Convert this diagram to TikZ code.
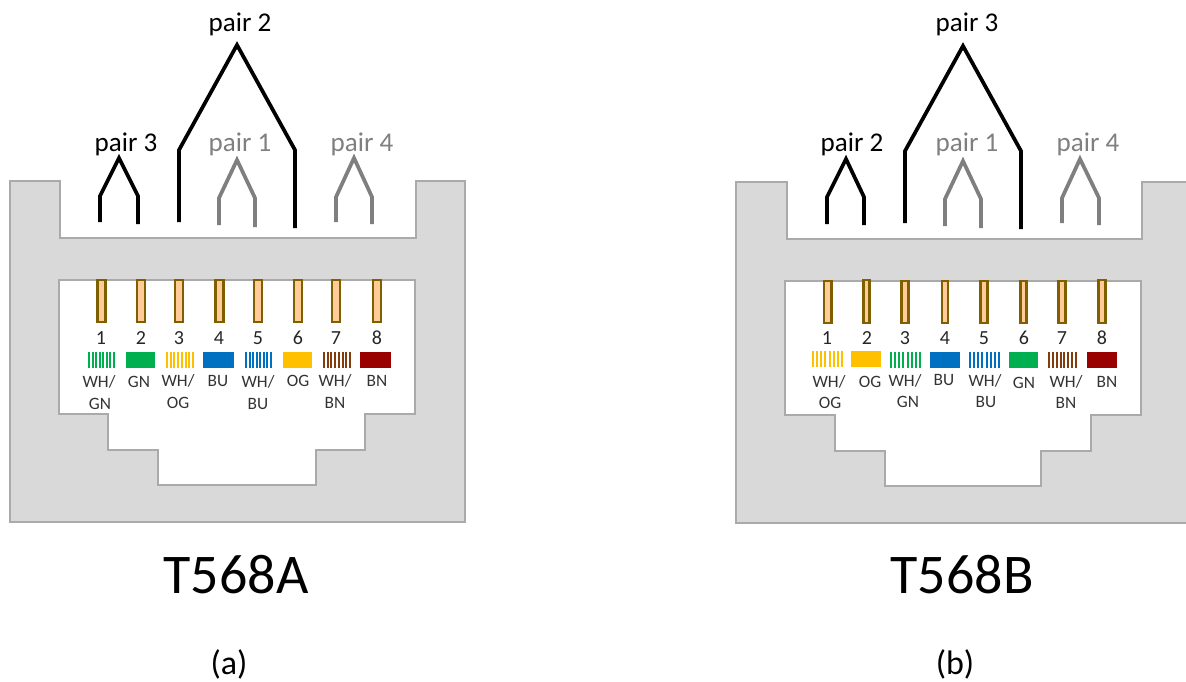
\documentclass[tikz,border=0pt]{standalone}
\usepackage{fontspec}
\setmainfont{Carlito}
\definecolor{shell}{RGB}{217,217,217}
\definecolor{edgeg}{RGB}{170,170,170}
\definecolor{pinfill}{RGB}{255,204,153}
\definecolor{pinedge}{RGB}{127,96,0}
\definecolor{cgreen}{RGB}{0,176,80}
\definecolor{corange}{RGB}{255,192,0}
\definecolor{cblue}{RGB}{0,112,192}
\definecolor{cbrown}{RGB}{132,60,12}
\definecolor{cred}{RGB}{153,0,0}
\definecolor{wireg}{RGB}{127,127,127}
\tikzset{
  x=0.75pt,y=-0.75pt,
  shellbody/.style={draw=edgeg,fill=shell,line width=1.6pt,even odd rule},
  pinbar/.style={draw=pinedge,fill=pinfill,line width=1.6pt},
  wirek/.style={draw=black,line width=2.8pt,line join=miter},
  wireh/.style={draw=wireg,line width=2.8pt,line join=miter},
  numtxt/.style={font=\fontsize{15pt}{16pt}\selectfont,text=black!85,inner sep=0pt,anchor=center},
  lbltxt/.style={font=\fontsize{13pt}{14pt}\selectfont,text=black!80,inner sep=0pt,anchor=center},
  pairk/.style={font=\fontsize{20.3pt}{22pt}\selectfont,text=black,inner sep=0pt,anchor=center},
  pairh/.style={font=\fontsize{20.3pt}{22pt}\selectfont,text=wireg,inner sep=0pt,anchor=center},
  titletxt/.style={font=\fontsize{42pt}{44pt}\selectfont,text=black,inner sep=0pt,anchor=center},
  captxt/.style={font=\fontsize{25.5pt}{27pt}\selectfont,text=black,inner sep=0pt,anchor=center},
}
% stripes: x0, x1, y0, y1, colour
\newcommand{\stripes}[5]{%
  \pgfmathsetmacro{\stp}{(#2-#1-2)/7}
  \foreach \k in {0,...,7}{
    \fill[#5] ({#1+\k*\stp},#3) rectangle ({#1+\k*\stp+2},#4);
  }}
\newcommand{\pinrect}[4]{\draw[pinbar] (#1-#2/2,#3) rectangle (#1+#2/2,#4);}
\begin{document}
\begin{tikzpicture}
\useasboundingbox (0,0) rectangle (1186,682);
\clip (0,0) rectangle (1186,682);
% ---- left connector
\path[shellbody] (10,181)--(60,181)--(60,238)--(416,238)--(416,181)--(465,181)--(465,522)--(10,522)--cycle
 (59,280)--(415,280)--(415,414)--(365,414)--(365,450)--(316,450)--(316,485)--(158,485)--(158,450)--(108,450)--(108,414)--(59,414)--cycle;
% ---- right connector
\path[shellbody] (736,182)--(787,182)--(787,239)--(1142,239)--(1142,182)--(1195,182)--(1195,523)--(736,523)--cycle
 (785,281)--(1141,281)--(1141,415)--(1091,415)--(1091,451)--(1041,451)--(1041,486)--(885,486)--(885,451)--(835,451)--(835,415)--(785,415)--cycle;
% ---- pins left
\foreach \px in {101.5,141,179,219.5,258,298,336,377}{\pinrect{\px}{8}{280}{322}}
% ---- pins right
\pinrect{827.7}{7.5}{281}{323}
\pinrect{866.5}{6}{280}{323}
\pinrect{905}{7}{281}{323}
\pinrect{945}{6}{281}{323}
\pinrect{984}{7}{281}{323}
\pinrect{1023.5}{6}{281}{323}
\pinrect{1062}{7}{281}{323}
\pinrect{1102}{7}{280}{323}
% ---- swatches left
\stripes{88}{115}{352}{368}{cgreen}
\fill[cgreen] (126,352) rectangle (155,368);
\stripes{166}{194}{352}{368}{corange}
\fill[cblue] (203,352) rectangle (234,368);
\stripes{245}{272}{352}{368}{cblue}
\fill[corange] (283,352) rectangle (312,368);
\stripes{323}{351}{352}{368}{cbrown}
\fill[cred] (360,352) rectangle (391,368);
% ---- swatches right
\stripes{812}{843}{351}{367}{corange}
\fill[corange] (851,351) rectangle (881,367);
\stripes{890}{921}{352}{368}{cgreen}
\fill[cblue] (930,352) rectangle (960,368);
\stripes{969}{1000}{352}{368}{cblue}
\fill[cgreen] (1009,352) rectangle (1038,368);
\stripes{1048}{1077}{352}{368}{cbrown}
\fill[cred] (1087,352) rectangle (1117,368);
% ---- numbers
\foreach \n/\px in {1/101,2/141,3/179,4/219,5/258,6/298,7/336,8/377}{\node[numtxt] (la\n) at (\px,338) {\n};}
\foreach \n/\px in {1/827,2/867,3/905,4/945,5/984,6/1024,7/1062,8/1102}{\node[numtxt] (lb\n) at (\px,338) {\n};}
% ---- colour labels left
\node[lbltxt] (a1u) at (99,382) {WH/};
\node[lbltxt] (a1d) at (100,404) {GN};
\node[lbltxt] (a2) at (139,382) {GN};
\node[lbltxt] (a3u) at (178,381) {WH/};
\node[lbltxt] (a3d) at (178,403) {OG};
\node[lbltxt] (a4) at (218,381) {BU};
\node[lbltxt] (a5u) at (258,382) {WH/};
\node[lbltxt] (a5d) at (258,404) {BU};
\node[lbltxt] (a6) at (298,381) {OG};
\node[lbltxt] (a7u) at (335,381) {WH/};
\node[lbltxt] (a7d) at (335,403) {BN};
\node[lbltxt] (a8) at (377,381) {BN};
% ---- colour labels right
\node[lbltxt] (b1u) at (829,382) {WH/};
\node[lbltxt] (b1d) at (830,403) {OG};
\node[lbltxt] (b2) at (870,382) {OG};
\node[lbltxt] (b3u) at (905,381) {WH/};
\node[lbltxt] (b3d) at (908,402) {GN};
\node[lbltxt] (b4) at (944,380) {BU};
\node[lbltxt] (b5u) at (985,381) {WH/};
\node[lbltxt] (b5d) at (986,402) {BU};
\node[lbltxt] (b6) at (1024,383) {GN};
\node[lbltxt] (b7u) at (1066,382) {WH/};
\node[lbltxt] (b7d) at (1066,403) {BN};
\node[lbltxt] (b8) at (1107,382) {BN};
% ---- wires left
\draw[wirek] (100,222)--(100,196)--(119,158)--(138,196)--(138,224);
\draw[wirek] (179,222)--(179,150)--(237,45)--(295,150)--(295,228);
\draw[wireh] (219,225)--(219,198)--(237,160)--(255,198)--(255,227);
\draw[wireh] (336,222)--(336,197)--(354,158)--(372,197)--(372,224);
% ---- wires right
\draw[wirek] (827,224)--(827,197)--(846,159)--(864,197)--(864,225);
\draw[wirek] (905,223)--(905,151)--(963,46)--(1021,151)--(1021,229);
\draw[wireh] (945,226)--(945,199)--(963,161)--(981,199)--(981,228);
\draw[wireh] (1062,223)--(1062,198)--(1080,159)--(1099,198)--(1099,225);
% ---- pair labels
\node[pairk] (p2a) at (240,24) {pair 2};
\node[pairk] (p3a) at (126,144) {pair 3};
\node[pairh] (p1a) at (240,144) {pair 1};
\node[pairh] (p4a) at (362,144) {pair 4};
\node[pairk] (p3b) at (967,24) {pair 3};
\node[pairk] (p2b) at (852,144) {pair 2};
\node[pairh] (p1b) at (967,144) {pair 1};
\node[pairh] (p4b) at (1088,144) {pair 4};
% ---- titles
\node[titletxt] (ta) at (236,575) {T568A};
\node[titletxt] (tb) at (962,575) {T568B};
\node[captxt] (ca) at (229,664) {(a)};
\node[captxt] (cb) at (955,664) {(b)};
\end{tikzpicture}
\end{document}
